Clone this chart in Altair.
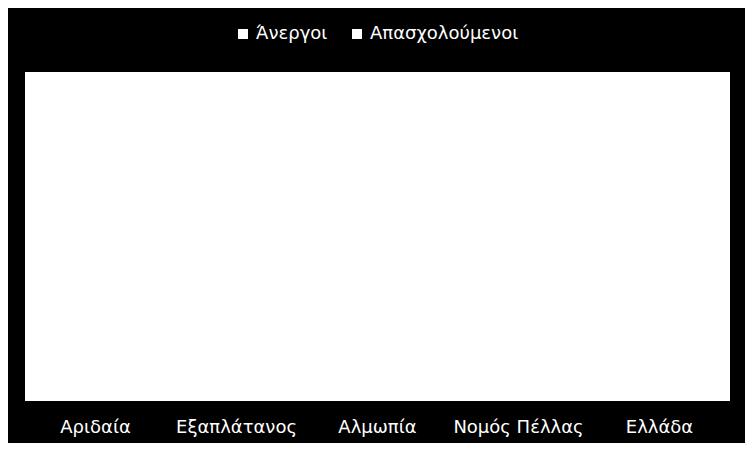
import altair as alt
import pandas as pd

categories = ["Αριδαία", "Εξαπλάτανος", "Αλμωπία", "Νομός Πέλλας", "Ελλάδα"]
series = ["Άνεργοι", "Απασχολούμενοι"]
unemployed = [12.0, 15.0, 13.0, 14.0, 10.0]
employed = [88.0, 85.0, 87.0, 86.0, 90.0]

rows = []
for c, u, e in zip(categories, unemployed, employed):
    rows.append({"area": c, "group": series[0], "value": u})
    rows.append({"area": c, "group": series[1], "value": e})
df = pd.DataFrame(rows)

FONT = "DejaVu Sans"

chart = (
    alt.Chart(df)
    .mark_bar(size=60)
    .encode(
        x=alt.X(
            "area:N",
            sort=categories,
            title=None,
            axis=alt.Axis(
                labelAngle=0,
                labelColor="white",
                labelFont=FONT,
                labelFontSize=18,
                labelPadding=17,
                ticks=False,
                domain=False,
                grid=False,
            ),
            scale=alt.Scale(paddingInner=0.5, paddingOuter=0.25),
        ),
        y=alt.Y("value:Q", stack="normalize", axis=None),
        color=alt.Color(
            "group:N",
            sort=series,
            scale=alt.Scale(domain=series, range=["white", "white"]),
            legend=alt.Legend(
                title=None,
                orient="none",
                direction="horizontal",
                legendX=209,
                legendY=-47,
                symbolType="square",
                symbolSize=100,
                symbolStrokeWidth=0,
                symbolFillColor="white",
                labelColor="white",
                labelFont=FONT,
                labelFontSize=18,
                labelOffset=4,
                columnPadding=20,
                padding=0,
            ),
        ),
        order=alt.Order("group:N", sort="descending"),
    )
    .properties(
        width=705,
        height=329,
        background="black",
        padding={"left": 17, "top": 64, "right": 15, "bottom": 42},
        autosize=alt.AutoSizeParams(type="none"),
    )
    .configure_view(fill="white", stroke=None)
)

chart.save("out.html", embed_options={"renderer": "svg", "actions": False})
